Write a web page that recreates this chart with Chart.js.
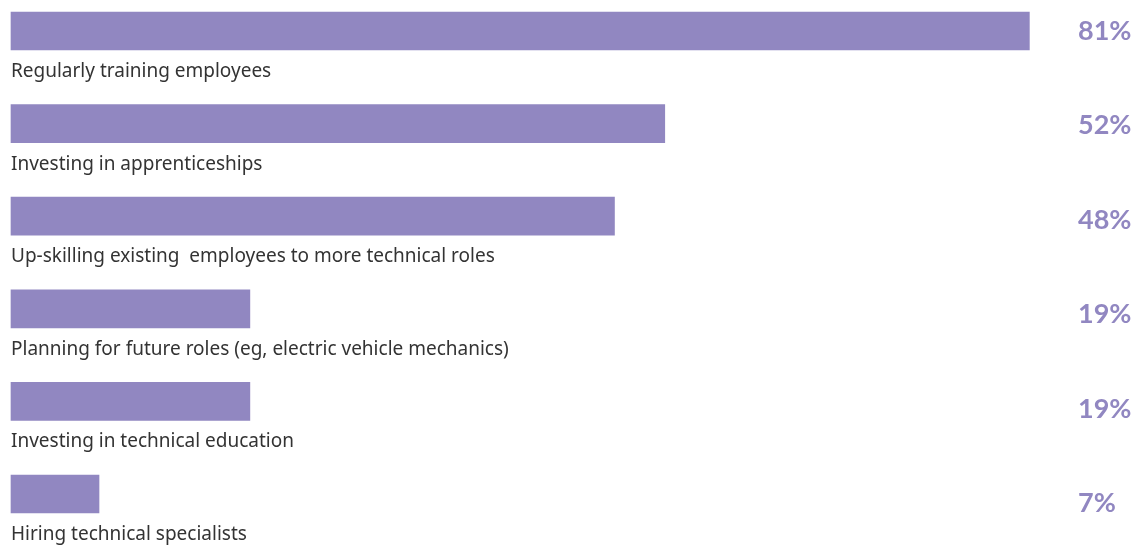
<!DOCTYPE html>
<html>
<head>
<meta charset="utf-8">
<script src="https://cdn.jsdelivr.net/npm/chart.js@4"></script>
<style>
  html, body { margin: 0; padding: 0; background: #ffffff; }
  #wrap { width: 1140px; height: 545px; position: relative; }
</style>
</head>
<body>
<div id="wrap"><canvas id="skillsChart"></canvas></div>
<script>
const categories = [
    'Regularly training employees',
    'Investing in apprenticeships',
    'Up-skilling existing  employees to more technical roles',
    'Planning for future roles (eg, electric vehicle mechanics)',
    'Investing in technical education',
    'Hiring technical specialists'
];
const shares = [81, 52, 48, 19, 19, 7];
const shareLabels = ['81%', '52%', '48%', '19%', '19%', '7%'];

const barColor = '#9187c1';

// category names under each bar, percentages at the right edge
const barLabels = {
    id: 'barLabels',
    afterDatasetsDraw(chart) {
        const ctx = chart.ctx;
        const meta = chart.getDatasetMeta(0);
        ctx.save();
        meta.data.forEach(function (bar, i) {
            const bottom = bar.y + bar.height / 2;
            ctx.fillStyle = '#333333';
            ctx.font = '19px "Noto Sans"';
            ctx.textAlign = 'left';
            ctx.textBaseline = 'alphabetic';
            ctx.fillText(categories[i], chart.chartArea.left, bottom + 27);

            ctx.fillStyle = barColor;
            ctx.font = 'bold 27px Lato';
            ctx.fillText(shareLabels[i], 1078, bar.y + 9 + i * 1.8);
        });
        ctx.restore();
    }
};

document.addEventListener('DOMContentLoaded', function () {
    const ctx = document.getElementById('skillsChart').getContext('2d');

    new Chart(ctx, {
        type: 'bar',
        data: {
            labels: categories,
            datasets: [{
                data: shares,
                backgroundColor: barColor,
                borderWidth: 0,
                barThickness: 38,
                clip: false
            }]
        },
        options: {
            indexAxis: 'y',
            responsive: true,
            maintainAspectRatio: false,
            animation: false,
            layout: {
                padding: { left: 11, right: 0, top: 31, bottom: 51 }
            },
            scales: {
                x: { display: false, min: 0, max: 89.8 },
                y: { display: false, offset: false }
            },
            plugins: {
                legend: { display: false },
                tooltip: { enabled: false }
            }
        },
        plugins: [barLabels]
    });
});
</script>
</body>
</html>
